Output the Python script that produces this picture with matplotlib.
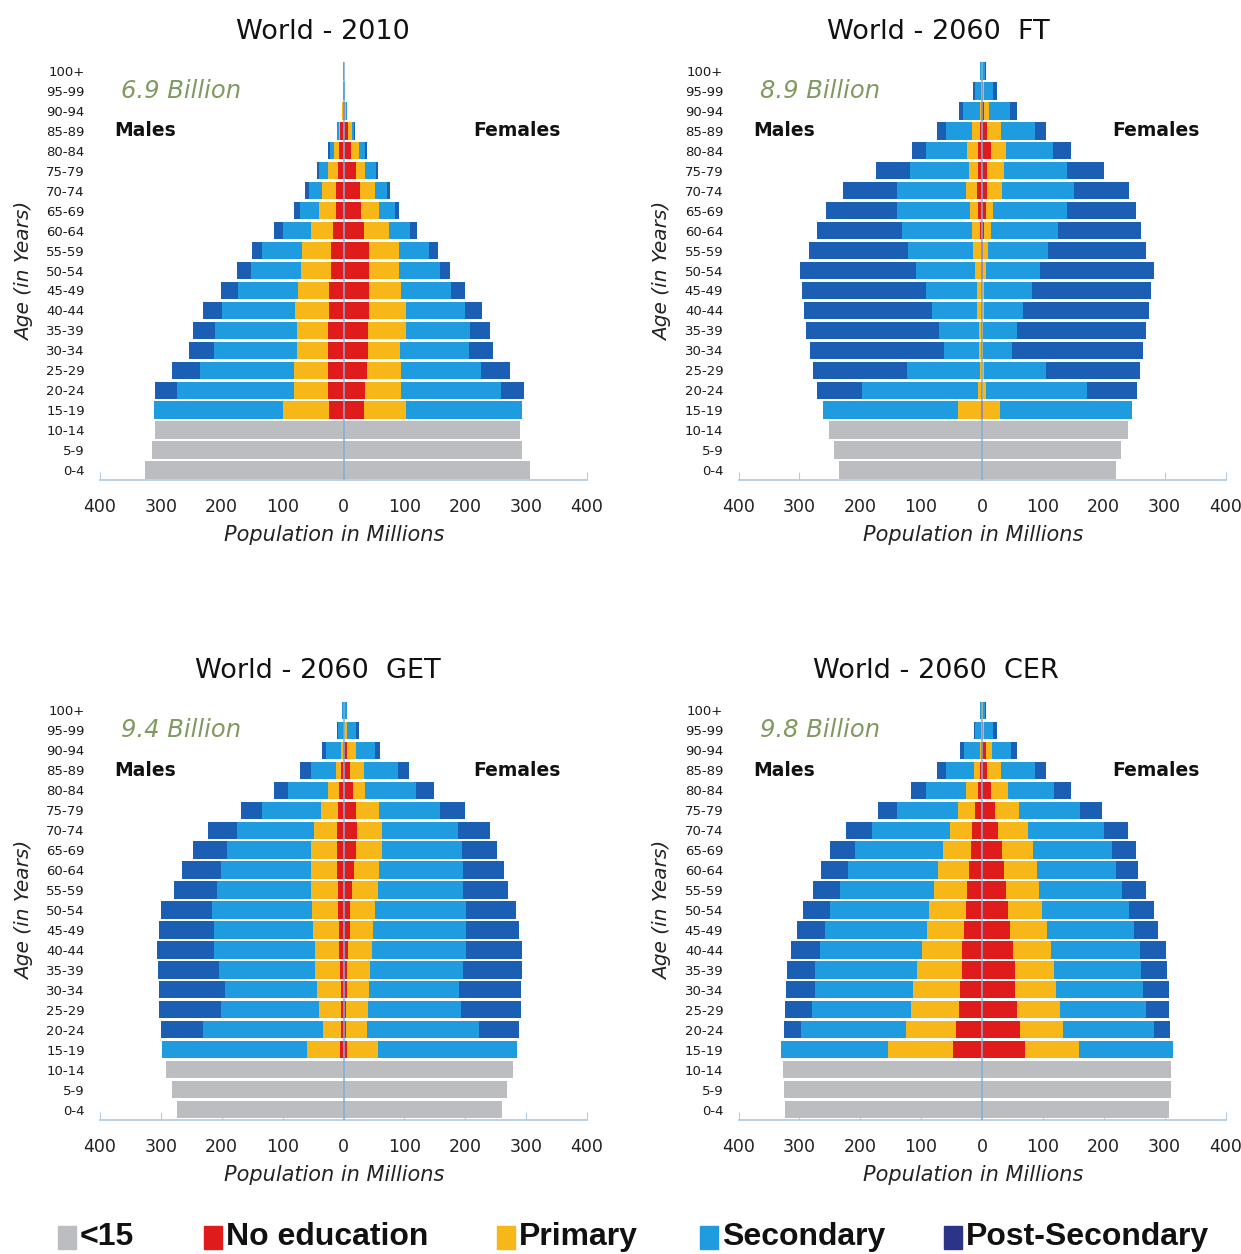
import numpy as np
import matplotlib.pyplot as plt
from matplotlib.patches import Rectangle

# age groups, bottom to top
ages = ['0-4', '5-9', '10-14', '15-19', '20-24', '25-29', '30-34', '35-39', '40-44',
        '45-49', '50-54', '55-59', '60-64', '65-69', '70-74', '75-79', '80-84',
        '85-89', '90-94', '95-99', '100+']

# under 15 (0-4, 5-9, 10-14), then 15-19 ... 100+ by education (millions)
# World 2010
m2010_u15 = [326, 314, 310]
m2010_none = [23, 26, 26, 26, 25, 23, 23, 20, 20, 17, 13, 12, 9, 7, 5, 1.5, 0.5, 0.1]
m2010_prim = [77, 55, 55, 50, 52, 56, 52, 50, 48, 37, 28, 23, 17, 9, 3, 0.8, 0.2, 0.1]
m2010_sec = [211, 193, 155, 137, 134, 120, 98, 82, 66, 45, 31, 21, 14, 6, 2, 0.5, 0.3, 0.1]
m2010_post = [0, 36, 46, 40, 37, 32, 28, 23, 17, 15, 10, 7, 4, 3, 1, 0.3, 0.1, 0]
f2010_u15 = [307, 293, 290]
f2010_none = [33, 36, 39, 40, 40, 42, 42, 42, 42, 34, 28, 27, 20, 13, 8, 3, 1, 0.2]
f2010_prim = [70, 58, 55, 53, 63, 61, 52, 49, 49, 41, 31, 24, 15, 12, 6, 1.5, 0.4, 0.1]
f2010_sec = [190, 164, 132, 113, 104, 96, 83, 67, 49, 34, 25, 21, 18, 11, 4, 1, 0.4, 0.1]
f2010_post = [0, 38, 47, 40, 34, 28, 23, 17, 15, 11, 7, 5, 3, 2, 1, 0.3, 0.1, 0]

# World 2060 FT
mft_u15 = [235, 243, 252]
mft_none = [2, 1, 0, 1, 1, 2, 2, 2, 2, 4, 6, 8, 7, 6, 4, 1, 0.3, 0]
mft_prim = [37, 6, 3, 4, 4, 6, 7, 10, 13, 12, 14, 19, 15, 18, 12, 3, 2, 0.5]
mft_sec = [223, 190, 121, 57, 65, 74, 83, 97, 106, 115, 120, 113, 97, 68, 43, 27, 10, 3]
mft_post = [0, 74, 153, 220, 219, 210, 204, 190, 163, 140, 116, 88, 55, 23, 15, 6, 2, 0.5]
fft_u15 = [220, 228, 240]
fft_none = [2, 0, 0, 0, 0, 0, 0, 1, 2, 3, 6, 9, 9, 14, 8, 4, 1, 0.2]
fft_prim = [27, 6, 3, 2, 2, 3, 3, 5, 8, 12, 12, 24, 27, 26, 24, 8, 3, 0.5]
fft_sec = [218, 167, 102, 47, 56, 65, 79, 89, 99, 110, 122, 118, 103, 77, 55, 34, 14, 4]
fft_post = [0, 82, 155, 216, 212, 207, 195, 188, 161, 137, 113, 90, 61, 29, 18, 11, 6, 1.3]

# World 2060 GET
mget_u15 = [274, 282, 291]
mget_none = [6, 4, 4, 4, 6, 7, 7, 9, 9, 10, 10, 10, 9, 7, 4, 1, 0.3, 0.1]
mget_prim = [54, 29, 37, 39, 40, 40, 43, 43, 45, 43, 43, 39, 28, 19, 9, 3, 1, 0.3]
mget_sec = [238, 198, 160, 152, 159, 165, 163, 164, 154, 148, 138, 126, 97, 65, 40, 25, 7, 2]
mget_post = [0, 69, 102, 108, 100, 94, 90, 83, 71, 64, 57, 47, 35, 23, 19, 6, 2, 0.5]
fget_u15 = [261, 269, 278]
fget_none = [5, 4, 4, 5, 6, 8, 10, 11, 14, 17, 20, 22, 20, 16, 11, 5, 1, 0.3]
fget_prim = [51, 35, 37, 37, 37, 38, 38, 40, 43, 42, 43, 41, 39, 20, 22, 15, 4, 1]
fget_sec = [229, 184, 152, 148, 153, 155, 153, 150, 139, 137, 131, 125, 99, 83, 56, 31, 16, 4]
fget_post = [0, 65, 98, 101, 97, 92, 88, 83, 75, 67, 58, 52, 41, 29, 18, 9, 4, 0.7]

# World 2060 CER
mcer_u15 = [324, 326, 327]
mcer_none = [48, 42, 38, 36, 33, 33, 30, 27, 24, 22, 18, 16, 12, 6, 4, 1, 0.3, 0.1]
mcer_prim = [107, 83, 79, 77, 73, 65, 60, 60, 55, 51, 46, 37, 28, 21, 9, 2, 1, 0.3]
mcer_sec = [176, 173, 162, 161, 168, 168, 168, 162, 155, 147, 145, 128, 100, 65, 46, 27, 10, 3]
mcer_post = [0, 28, 45, 48, 46, 48, 46, 45, 43, 45, 40, 42, 31, 24, 15, 6, 2, 0.5]
fcer_u15 = [308, 310, 311]
fcer_none = [70, 62, 58, 55, 54, 51, 46, 42, 40, 36, 33, 27, 21, 15, 9, 6, 1, 0.3]
fcer_prim = [89, 71, 70, 67, 65, 63, 60, 57, 54, 54, 51, 48, 39, 27, 23, 10, 3, 0.7]
fcer_sec = [154, 150, 142, 142, 143, 146, 143, 142, 136, 130, 129, 126, 101, 77, 55, 32, 14, 4]
fcer_post = [0, 26, 38, 43, 42, 42, 40, 42, 40, 37, 40, 39, 36, 27, 18, 10, 6, 1]

titles = ['World - 2010', 'World - 2060  FT', 'World - 2060  GET', 'World - 2060  CER']
totals = ['6.9 Billion', '8.9 Billion', '9.4 Billion', '9.8 Billion']
legend_labels = ['<15', 'No education', 'Primary', 'Secondary', 'Post-Secondary']

colors = ['#bcbdc0', '#e01b1b', '#f7b718', '#1f9be0', '#1a5fb4']
legend_colors = ['#bcbdc0', '#e01b1b', '#f7b718', '#1f9be0', '#2b3487']
axis_col = '#b4cde2'


def full(u15, none, prim, sec, post):
    z3 = [0, 0, 0]
    return [list(u15) + [0] * 18, z3 + list(none), z3 + list(prim),
            z3 + list(sec), z3 + list(post)]


def pyramid(ax, males, females, title, total, tx):
    y = np.arange(len(ages))
    for side, parts in ((-1, males), (1, females)):
        cum = np.zeros(len(ages))
        for vals, c in zip(parts, colors):
            vals = np.array(vals, dtype=float)
            ax.barh(y, side * vals, left=side * cum, height=0.87, color=c,
                    edgecolor='none', zorder=2)
            cum += vals
    ax.axvline(0, color='#7fb0d6', lw=1.3, zorder=3, alpha=0.85)
    ax.set_xlim(-400, 400)
    ax.set_ylim(-0.5, 20.45)
    ax.set_yticks(y)
    ax.set_yticklabels(ages, fontsize=9.5, color='#1a1a1a')
    ax.tick_params(axis='y', length=0, pad=11)
    ax.set_xticks(range(-400, 401, 100))
    ax.set_xticklabels([str(abs(v)) for v in range(-400, 401, 100)],
                       fontsize=12.5, color='#222222')
    ax.tick_params(axis='x', direction='in', length=6, color=axis_col, pad=13)
    for s in ['top', 'right', 'left']:
        ax.spines[s].set_visible(False)
    ax.spines['bottom'].set_color(axis_col)
    ax.spines['bottom'].set_linewidth(1.3)
    ax.text(tx, 1.072, title, transform=ax.transAxes, ha='center', va='center',
            fontsize=19.5, color='#111111')
    ax.text(0.4815, -0.132, 'Population in Millions', transform=ax.transAxes,
            ha='center', va='center', fontsize=15, style='italic', color='#222222')
    ax.text(-365, 19, total, ha='left', va='center', fontsize=17.5,
            style='italic', color='#7f9a5f')
    ax.text(-376, 17, 'Males', ha='left', va='center', fontsize=13.5,
            fontweight='bold', color='#111111')
    ax.text(357, 17, 'Females', ha='right', va='center', fontsize=13.5,
            fontweight='bold', color='#111111')


fig = plt.figure(figsize=(12.41, 12.54), dpi=100)
W, H = 1241.0, 1254.0
ax_w, ax_h = 487 / W, 418 / H
lefts = [100 / W, 738.5 / W]
bottoms = [(H - 480) / H, (H - 1119.5) / H]

panels = [
    (full(m2010_u15, m2010_none, m2010_prim, m2010_sec, m2010_post),
     full(f2010_u15, f2010_none, f2010_prim, f2010_sec, f2010_post)),
    (full(mft_u15, mft_none, mft_prim, mft_sec, mft_post),
     full(fft_u15, fft_none, fft_prim, fft_sec, fft_post)),
    (full(mget_u15, mget_none, mget_prim, mget_sec, mget_post),
     full(fget_u15, fget_none, fget_prim, fget_sec, fget_post)),
    (full(mcer_u15, mcer_none, mcer_prim, mcer_sec, mcer_post),
     full(fcer_u15, fcer_none, fcer_prim, fcer_sec, fcer_post)),
]
title_x = [0.458, 0.41, 0.447, 0.405]

for i, (m, f) in enumerate(panels):
    ax = fig.add_axes([lefts[i % 2], bottoms[i // 2], ax_w, ax_h])
    pyramid(ax, m, f, titles[i], totals[i], title_x[i])

# y labels
for yc in [1 - 271 / H, 1 - 910.5 / H]:
    for xc in [25 / W, 663 / W]:
        fig.text(xc, yc, 'Age (in Years)', rotation=90, ha='center', va='center',
                 fontsize=14.5, style='italic', color='#222222')

# legend along the bottom
leg_x = [58, 204, 497, 700, 944]
for x0, lab, c in zip(leg_x, legend_labels, legend_colors):
    fig.patches.append(Rectangle((x0 / W, 1 - 1249 / H), 18 / W, 23 / H,
                                 transform=fig.transFigure, color=c))
    fig.text((x0 + 22) / W, 1 - 1237 / H, lab, ha='left', va='center',
             fontsize=23, fontweight='bold', family='Liberation Sans', color='#111111')

fig.savefig('out.png', dpi=100, facecolor='white')
